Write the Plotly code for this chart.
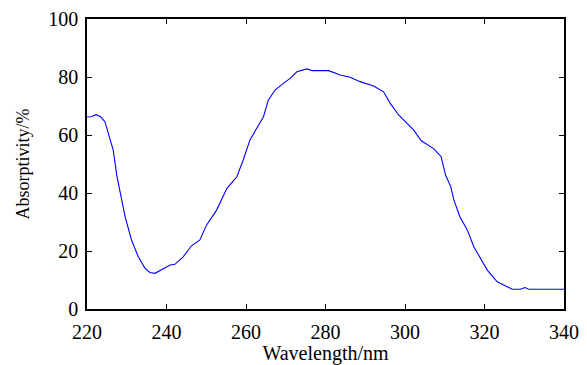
import plotly.graph_objects as go

wavelength = [220, 221, 222.3, 223.5, 224.5, 225.4, 226.6, 227.5, 228.7, 229.6, 231.2, 232.9, 234.6,
              235.8, 237.1, 239.2, 240.9, 242.1, 244.2, 246.3, 248.4, 250.1, 252.6, 255.2, 257.7,
              259.3, 261, 262.7, 264.4, 265.6, 267.3, 269.4, 271.1, 272.8, 275.3, 276.6, 280.8,
              283.7, 286.2, 288.7, 292.1, 294.6, 296.3, 298.4, 300.2, 302.2, 304.1, 307.2, 309.1,
              310.2, 311.5, 312.3, 313.8, 315.7, 317.3, 319, 320.7, 323.2, 324.8, 327, 329, 330.2,
              331.1, 335, 340]
absorptivity = [66.2, 66.3, 67, 66.2, 64.6, 60.7, 54.8, 46, 37.6, 31.8, 23.8, 18, 14,
                12.6, 12.3, 14, 15.2, 15.4, 18, 21.8, 23.8, 29, 34.1, 41.6, 45.6,
                51.4, 58.3, 62.3, 66.3, 72, 75.5, 77.8, 79.5, 81.8, 82.8, 82.2, 82.2,
                80.7, 79.9, 78.4, 76.9, 74.9, 70.9, 66.9, 64.5, 61.7, 58, 55.3, 52.5,
                46.2, 42.2, 37.6, 31.8, 27.2, 21.5, 17.5, 13.4, 9.4, 8.3, 6.8, 6.8, 7.4,
                6.8, 6.8, 6.8]

x_ticks = [220, 240, 260, 280, 300, 320, 340]
y_ticks = [0, 20, 40, 60, 80, 100]

fig = go.Figure()
fig.add_trace(go.Scatter(x=wavelength, y=absorptivity, mode="lines",
                         line=dict(color="#0000FF", width=1.1), showlegend=False))

font = dict(family="Liberation Serif", color="black")
axis_common = dict(showline=True, linecolor="black", linewidth=1.5, mirror="allticks",
                   ticks="inside", ticklen=5, tickcolor="black", tickwidth=1,
                   showgrid=False, zeroline=False, automargin=False,
                   tickfont=dict(size=20, **font))

fig.update_layout(
    width=587, height=365,
    margin=dict(l=87, r=23, t=19, b=56),
    paper_bgcolor="white", plot_bgcolor="white",
    xaxis=dict(range=[220, 340], tickvals=x_ticks, ticktext=[str(v) for v in x_ticks],
               ticklabelstandoff=4,
               title=dict(text="Wavelength/nm", font=dict(size=20, **font), standoff=6),
               **axis_common),
    yaxis=dict(range=[0, 100], tickvals=y_ticks, ticktext=[str(v) for v in y_ticks],
               ticklabelstandoff=3,
               title=dict(text="Absorptivity/%", font=dict(size=18, **font), standoff=14),
               **axis_common),
)

fig.write_html("out.html")
